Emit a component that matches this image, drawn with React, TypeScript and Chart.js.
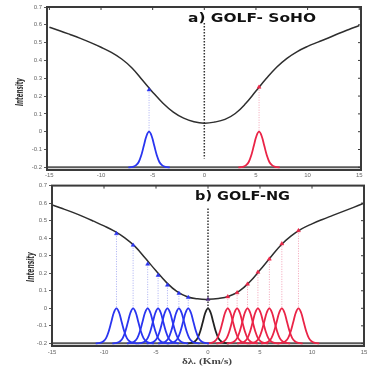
import { useEffect, useRef } from 'react';
import { Chart, registerables } from 'chart.js';

Chart.register(...registerables);

// ---------- data ----------
const CURVE_X = [-15, -14, -13, -12, -11, -10, -9, -8, -7, -6, -5, -4, -3, -2, -1, 0, 1, 2, 3, 4, 5, 6, 7, 8, 9, 10, 11, 12, 13, 14, 15];
const SOHO_CURVE_Y = [0.586, 0.567, 0.546, 0.524, 0.5, 0.474, 0.445, 0.408, 0.358, 0.29, 0.222, 0.16, 0.11, 0.076, 0.056, 0.048, 0.054, 0.069, 0.102, 0.158, 0.228, 0.298, 0.362, 0.412, 0.45, 0.479, 0.503, 0.526, 0.551, 0.574, 0.596];
const NG_CURVE_Y = [0.59, 0.569, 0.547, 0.523, 0.497, 0.47, 0.44, 0.402, 0.352, 0.284, 0.214, 0.148, 0.096, 0.066, 0.054, 0.051, 0.056, 0.069, 0.098, 0.15, 0.218, 0.29, 0.36, 0.413, 0.453, 0.482, 0.507, 0.53, 0.553, 0.576, 0.6];

// line profile (one filter passband), offsets in km/s and intensity values
const PROFILE_OFFSETS = [-2, -1.75, -1.5, -1.25, -1, -0.75, -0.5, -0.25, 0, 0.25, 0.5, 0.75, 1, 1.25, 1.5, 1.75, 2];
const PROFILE_SHAPE = [-0.2, -0.199, -0.196, -0.188, -0.17, -0.132, -0.078, -0.024, 0, -0.024, -0.078, -0.132, -0.17, -0.188, -0.196, -0.199, -0.2];
const BASELINE = -0.2;

const SOHO_BLUE_CENTERS = [-5.35];
const SOHO_BLUE_MARKS = [0.235];
const SOHO_RED_CENTERS = [5.3];
const SOHO_RED_MARKS = [0.25];
const SOHO_GUIDE = [0.61, -0.15];

const NG_BLUE_CENTERS = [-8.8, -7.2, -5.8, -4.8, -3.9, -2.8, -1.9];
const NG_BLUE_MARKS = [0.426, 0.36, 0.252, 0.188, 0.132, 0.085, 0.062];
const NG_MID_CENTERS = [0];
const NG_MID_MARKS = [0.051];
const NG_RED_CENTERS = [1.9, 2.8, 3.8, 4.8, 5.9, 7.1, 8.7];
const NG_RED_MARKS = [0.066, 0.089, 0.138, 0.206, 0.281, 0.368, 0.443];
const NG_GUIDE = [0.57, 0];

const X_TICKS = [-15, -10, -5, 0, 5, 10, 15];
const Y_TICKS = [-0.2, -0.1, 0, 0.1, 0.2, 0.3, 0.4, 0.5, 0.6, 0.7];

const TITLE_A = 'a) GOLF- SoHO';
const TITLE_B = 'b) GOLF-NG';
const Y_TITLE = 'Intensity';
const X_TITLE = 'δλ. (Km/s)';

// ---------- styling ----------
const BLUE = '#2a35f0';
const RED = '#ea2447';
const DARK = '#2e2e2e';
const BLUE_GUIDE = '#a9aef2';
const RED_GUIDE = '#f3a2b6';

type TextSpec = {
  text: string;
  x: number;
  y: number;
  width: number;
  font: string;
  color: string;
  rotate?: boolean;
  align?: 'left' | 'center';
};

type Panel = {
  curveY: number[];
  blueC: number[];
  blueM: number[];
  redC: number[];
  redM: number[];
  midC: number[];
  midM: number[];
  guide: number[];
  xMin: number;
  xMax: number;
  yMin: number;
  padTop: number;
  padRight: number;
  yWidth: number;
  xHeight: number;
  xTickPad: number;
  texts: TextSpec[];
};

function profileAt(center: number) {
  return PROFILE_OFFSETS.map((o, i) => ({ x: center + o, y: PROFILE_SHAPE[i] }));
}

function buildDatasets(p: Panel): any[] {
  const ds: any[] = [];
  ds.push({
    data: [{ x: p.xMin, y: BASELINE }, { x: p.xMax, y: BASELINE }],
    borderColor: '#5a5a5a',
    borderWidth: 2,
    pointRadius: 0,
    order: 6,
  });
  const guide = (c: number[], m: number[], col: string) =>
    c.forEach((cx, i) =>
      ds.push({
        data: [{ x: cx, y: m[i] }, { x: cx, y: 0 }],
        borderColor: col,
        borderWidth: 1,
        borderDash: [1, 1.5],
        pointRadius: 0,
        order: 5,
      })
    );
  guide(p.blueC, p.blueM, BLUE_GUIDE);
  guide(p.redC, p.redM, RED_GUIDE);
  const prof = (c: number[], col: string) =>
    c.forEach((cx) =>
      ds.push({
        data: profileAt(cx),
        borderColor: col,
        borderWidth: 1.8,
        pointRadius: 0,
        tension: 0.4,
        order: 4,
      })
    );
  prof(p.blueC, BLUE);
  prof(p.redC, RED);
  prof(p.midC, '#222');
  ds.push({
    data: [{ x: 0, y: p.guide[0] }, { x: 0, y: p.guide[1] }],
    borderColor: '#333',
    borderWidth: 1.5,
    borderDash: [1.5, 1.5],
    pointRadius: 0,
    order: 3,
  });
  ds.push({
    data: CURVE_X.map((x, i) => ({ x, y: p.curveY[i] })),
    borderColor: DARK,
    borderWidth: 1.5,
    pointRadius: 0,
    tension: 0.4,
    order: 2,
  });
  const marks = (c: number[], m: number[], col: string) =>
    ds.push({
      data: c.map((cx, i) => ({ x: cx, y: m[i] })),
      showLine: false,
      pointStyle: 'triangle',
      pointRadius: 2.3,
      pointBackgroundColor: col,
      pointBorderColor: col,
      pointBorderWidth: 0.5,
      order: 1,
    });
  marks(p.blueC, p.blueM, BLUE);
  marks(p.redC, p.redM, RED);
  if (p.midC.length) marks(p.midC, p.midM, '#4a2a7a');
  return ds;
}

function drawText(ctx: CanvasRenderingContext2D, t: TextSpec) {
  ctx.save();
  ctx.font = t.font;
  ctx.fillStyle = t.color;
  const w = ctx.measureText(t.text).width;
  const sx = t.width / w;
  if (t.rotate) {
    ctx.translate(t.x, t.y);
    ctx.rotate(-Math.PI / 2);
    ctx.scale(sx, 1);
    ctx.textAlign = 'center';
    ctx.textBaseline = 'middle';
    ctx.fillText(t.text, 0, 0);
  } else {
    ctx.translate(t.x, t.y);
    ctx.scale(sx, 1);
    ctx.textAlign = t.align === 'center' ? 'center' : 'left';
    ctx.textBaseline = 'alphabetic';
    ctx.fillText(t.text, 0, 0);
  }
  ctx.restore();
}

function makeConfig(p: Panel): any {
  const tickFont = { family: 'Liberation Sans', size: 6 };
  const framePlugin = {
    id: 'panelFrame',
    afterDraw(chart: any) {
      const { ctx, chartArea: a } = chart;
      ctx.save();
      ctx.strokeStyle = '#3a3a3a';
      ctx.lineWidth = 2;
      ctx.strokeRect(a.left, a.top, a.right - a.left, a.bottom - a.top);
      ctx.lineWidth = 1;
      const xs = chart.scales.x;
      const ys = chart.scales.y;
      X_TICKS.forEach((v) => {
        const px = xs.getPixelForValue(v);
        ctx.beginPath();
        ctx.moveTo(px, a.top);
        ctx.lineTo(px, a.top + 3);
        ctx.stroke();
      });
      Y_TICKS.forEach((v) => {
        const py = ys.getPixelForValue(v);
        ctx.beginPath();
        ctx.moveTo(a.right, py);
        ctx.lineTo(a.right - 3, py);
        ctx.stroke();
      });
      ctx.restore();
      p.texts.forEach((t) => drawText(ctx, t));
    },
  };
  return {
    type: 'line',
    data: { datasets: buildDatasets(p) },
    plugins: [framePlugin],
    options: {
      responsive: false,
      animation: false,
      devicePixelRatio: 1,
      layout: { padding: { left: 0, right: p.padRight, top: p.padTop, bottom: 0 } },
      plugins: { legend: { display: false }, tooltip: { enabled: false } },
      scales: {
        x: {
          type: 'linear',
          min: p.xMin,
          max: p.xMax,
          afterBuildTicks: (s: any) => {
            s.ticks = X_TICKS.map((v) => ({ value: v }));
          },
          afterFit: (s: any) => {
            s.height = p.xHeight;
          },
          grid: { drawOnChartArea: false, drawTicks: false },
          border: { display: false },
          ticks: {
            font: tickFont,
            color: '#666',
            padding: p.xTickPad,
            maxRotation: 0,
            autoSkip: false,
            callback: (v: any) => String(v),
          },
        },
        y: {
          type: 'linear',
          min: p.yMin,
          max: 0.7,
          afterBuildTicks: (s: any) => {
            s.ticks = Y_TICKS.map((v) => ({ value: v }));
          },
          afterFit: (s: any) => {
            s.width = p.yWidth;
          },
          grid: { drawOnChartArea: false, drawTicks: true, tickLength: 3, color: '#555' },
          border: { display: false },
          ticks: {
            font: tickFont,
            color: '#666',
            padding: 2,
            autoSkip: false,
            callback: (v: any) => String(Math.round(Number(v) * 10) / 10),
          },
        },
      },
    },
  };
}

const TOP_PANEL: Panel = {
  curveY: SOHO_CURVE_Y,
  blueC: SOHO_BLUE_CENTERS,
  blueM: SOHO_BLUE_MARKS,
  redC: SOHO_RED_CENTERS,
  redM: SOHO_RED_MARKS,
  midC: [],
  midM: [],
  guide: SOHO_GUIDE,
  xMin: -15.23,
  xMax: 15.17,
  yMin: -0.215,
  padTop: 7,
  padRight: 21,
  yWidth: 47,
  xHeight: 10,
  xTickPad: 2,
  texts: [
    { text: TITLE_A, x: 188, y: 22, width: 128, font: 'bold 13px "DejaVu Sans"', color: '#111' },
    { text: Y_TITLE, x: 20, y: 92, width: 28, font: 'italic bold 10px "DejaVu Sans"', color: '#333', rotate: true },
  ],
};

const BOTTOM_PANEL: Panel = {
  curveY: NG_CURVE_Y,
  blueC: NG_BLUE_CENTERS,
  blueM: NG_BLUE_MARKS,
  redC: NG_RED_CENTERS,
  redM: NG_RED_MARKS,
  midC: NG_MID_CENTERS,
  midM: NG_MID_MARKS,
  guide: NG_GUIDE,
  xMin: -15,
  xMax: 15,
  yMin: -0.215,
  padTop: 5,
  padRight: 18,
  yWidth: 52,
  xHeight: 20,
  xTickPad: 3,
  texts: [
    { text: TITLE_B, x: 195, y: 19.5, width: 95, font: 'bold 13px "DejaVu Sans"', color: '#111' },
    { text: Y_TITLE, x: 31, y: 87, width: 30, font: 'italic bold 10px "DejaVu Sans"', color: '#333', rotate: true },
    { text: X_TITLE, x: 207, y: 184, width: 50, font: 'bold 9px "Liberation Serif"', color: '#444', align: 'center' },
  ],
};

function PanelChart({ panel, top, height }: { panel: Panel; top: number; height: number }) {
  const ref = useRef<HTMLCanvasElement | null>(null);
  useEffect(() => {
    if (!ref.current) return;
    const chart = new Chart(ref.current, makeConfig(panel));
    return () => chart.destroy();
  }, [panel]);
  return (
    <canvas
      ref={ref}
      width={382}
      height={height}
      style={{ position: 'absolute', left: 0, top, width: 382, height }}
    />
  );
}

export default function App() {
  return (
    <div style={{ position: 'fixed', left: 0, top: 0, width: 382, height: 366, background: '#fff', overflow: 'hidden' }}>
      <PanelChart panel={TOP_PANEL} top={0} height={180} />
      <PanelChart panel={BOTTOM_PANEL} top={180} height={186} />
    </div>
  );
}
